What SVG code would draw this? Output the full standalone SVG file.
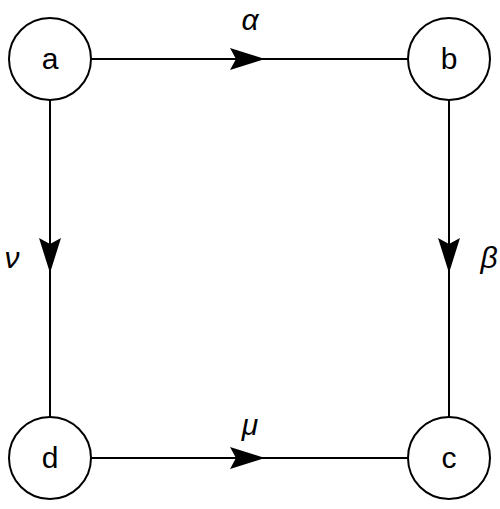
<svg xmlns="http://www.w3.org/2000/svg" width="500" height="509" viewBox="0 0 500 509">
<style>
.node circle{fill:#fff;stroke:#000;stroke-width:2}
.node text{font-family:"Liberation Sans",Arial,sans-serif;font-size:30px;text-anchor:middle;fill:#000}
.edge{stroke:#000;stroke-width:2;fill:none}
.lbl{font-family:"Liberation Sans",Arial,sans-serif;font-size:30px;font-style:italic;fill:#000;text-anchor:middle}
</style>
<defs>
<marker id="arr" markerWidth="36" markerHeight="22" refX="35" refY="11" orient="auto" markerUnits="userSpaceOnUse">
<path d="M0,0 L35,11 L0,22 L6,11 Z" fill="#000"/>
</marker>
</defs>
<g id="connectors">
<path class="edge" d="M91,59 L265,59" marker-end="url(#arr)"/><path class="edge" d="M265,59 L408,59"/>
<path class="edge" d="M449,100 L449,273" marker-end="url(#arr)"/><path class="edge" d="M449,273 L449,417"/>
<path class="edge" d="M91,458 L265,458" marker-end="url(#arr)"/><path class="edge" d="M265,458 L408,458"/>
<path class="edge" d="M50,100 L50,273" marker-end="url(#arr)"/><path class="edge" d="M50,273 L50,417"/>
<text class="lbl" x="250" y="30">α</text>
<text class="lbl" x="489" y="268">β</text>
<text class="lbl" x="250" y="435">μ</text>
<text class="lbl" x="12" y="268">ν</text>
</g>
<g id="a" class="node"><circle cx="50" cy="59" r="41"/><text x="50" y="69">a</text></g>
<g id="b" class="node"><circle cx="449" cy="59" r="41"/><text x="449" y="69">b</text></g>
<g id="c" class="node"><circle cx="449" cy="458" r="41"/><text x="449" y="468">c</text></g>
<g id="d" class="node"><circle cx="50" cy="458" r="41"/><text x="50" y="468">d</text></g>
</svg>
